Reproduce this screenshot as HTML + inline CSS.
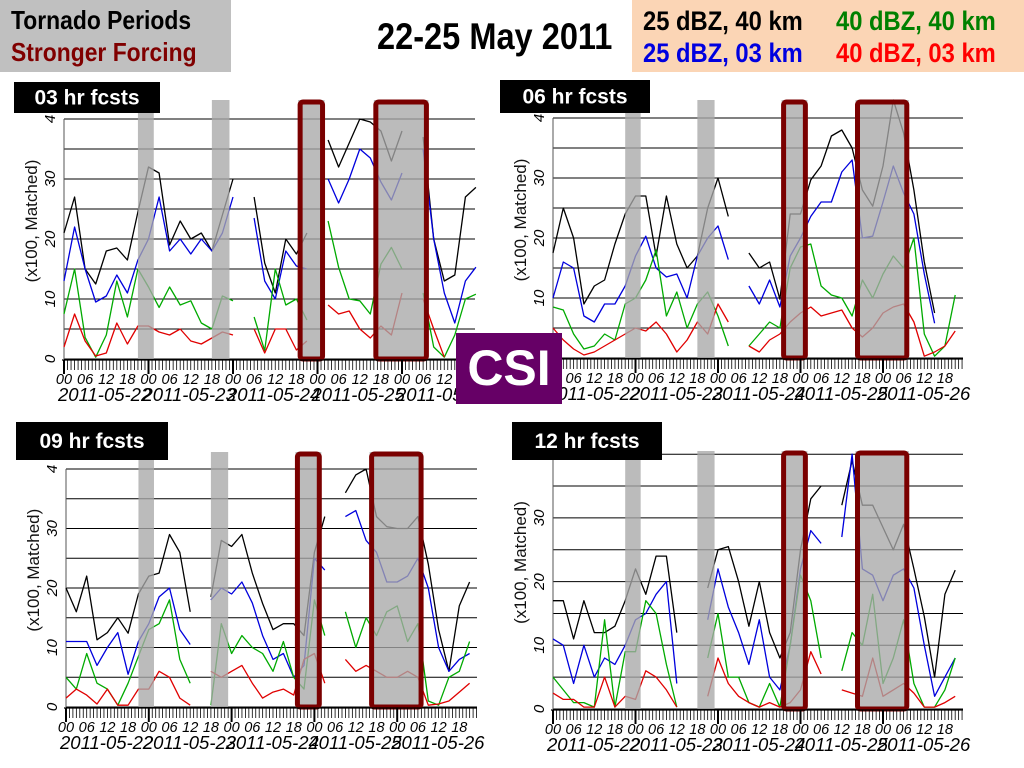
<!DOCTYPE html>
<html><head><meta charset="utf-8">
<style>
html,body{margin:0;padding:0;background:#fff;}
body{width:1024px;height:768px;position:relative;overflow:hidden;font-family:"Liberation Sans",Arial,sans-serif;}
.hdr{position:absolute;font-weight:bold;white-space:nowrap;line-height:1;transform-origin:left top;}
#chart{position:absolute;left:0;top:0;}
</style></head>
<body>
<div style="position:absolute;left:0;top:0;width:231px;height:72px;background:#c0c0c0;"></div>
<div class="hdr" style="left:11px;top:7px;font-size:26px;color:#000;transform:scaleX(0.88);">Tornado Periods</div>
<div class="hdr" style="left:11px;top:39px;font-size:26px;color:#800000;transform:scaleX(0.88);">Stronger Forcing</div>
<div class="hdr" style="left:377px;top:18px;font-size:37px;color:#000;transform:scaleX(0.88);">22-25 May 2011</div>
<div style="position:absolute;left:632px;top:0;width:392px;height:72px;background:#fbd5b5;"></div>
<div class="hdr" style="left:643px;top:8px;font-size:27px;color:#000;transform:scaleX(0.88);">25 dBZ, 40 km</div>
<div class="hdr" style="left:836px;top:8px;font-size:27px;color:#008000;transform:scaleX(0.88);">40 dBZ, 40 km</div>
<div class="hdr" style="left:643px;top:40px;font-size:27px;color:#0000e0;transform:scaleX(0.88);">25 dBZ, 03 km</div>
<div class="hdr" style="left:836px;top:40px;font-size:27px;color:#ff0000;transform:scaleX(0.88);">40 dBZ, 03 km</div>

<svg id="chart" width="1024" height="768" xmlns="http://www.w3.org/2000/svg"></svg>

<div style="position:absolute;left:456px;top:333px;width:106px;height:71px;background:#660066;color:#fff;font-weight:bold;font-size:50px;line-height:71px;text-align:center;">CSI</div>

<script>
const hours = [0,3,6,9,12,15,18,21,24,27,30,33,36,39,42,45,48,51,54,57,60,63,66,69,72,75,78,81,84,87,90,93,96,99,102,105,108,111,114,117];
const yTicks = [0,10,20,30,40];
const gridVals = [0,5,10,15,20,25,30,35,40];
const hourTickLabels = ["00","06","12","18"];
const dayLabels = ["2011-05-22","2011-05-23","2011-05-24","2011-05-25","2011-05-26"];
const tornadoSpans = [[21,25.5],[42,47]];
const forcingSpans = [[66.5,74],[88,103.5]];
const panelTitles = ["03 hr fcsts","06 hr fcsts","09 hr fcsts","12 hr fcsts"];

const p1Black=[21,27,15,12.5,18,18.5,16.5,24.5,32,31,19,23,20,21,18,24,30,null,27,16,11,20,17.5,21,null,36.5,32,36,40,39.5,38,33,38,null,37,20,13,14,27,28.6];
const p1Blue=[13,22,15,9.5,10.5,14,11,16.5,20,27,18,20,17.5,20,18,21,27,null,23.5,13,10,18,15.5,15,null,30,26,30,35,33.5,29.5,26.5,31,null,35,20,11,6,13,15.3];
const p1Green=[7.5,15,3.6,0.3,4,13,7,15,12,8.6,12,9,9.7,6,5,10.5,9.7,null,7,1.4,15,9,10,6.5,null,23,15.3,10,9.7,7.5,15.8,18.6,15,null,11,2,0.3,4,10,10.8];
const p1Red=[2,7.5,3,0.5,1,6,2.5,5.5,5.5,4.5,4,5,3,2.5,3.5,4.5,4,null,5,1,5,5,1.5,3,null,9,7.5,8,5,3.5,5.5,4,11,null,10,5,0.3,null,null,null];

const p2Black=[17.5,25,20,9,12,13,19,24,27,27,17,27,19,15,17,25,30,23.6,null,17.5,15,16,9.8,24,24,29.7,32,37,38,35,28,25.3,32,43,37.5,28,16,7.5,null,30];
const p2Blue=[10,16,15,7,6,9,9,12,17,20.3,15,13.5,14,10,17,20,22,16.4,null,12,9,13,8.5,17,20,23.6,26,26,31,33,20,20.3,26,32,27.5,24,14,5.8,null,14.7];
const p2Green=[8.5,8,4,1.5,2,4,3,9,10,13,18,7,11,5,9,11,7,2,null,2,4,6,5,15,18.5,19,12,10.5,10,7,13,10,14,17,15,20,4,0.3,2,10.5];
const p2Red=[5,3,1.5,0.5,1,2,3,4,5,4.5,6,4,1,3,6,4,9,6,null,2,1,3,4,6,7.5,8.5,7,7.5,8,5,3.5,5,7.5,8.5,9,6,0.3,1,2,4.5];

const p3Black=[20,16,22,11.3,12.5,15,12.4,19,22,22.5,29,26,16,null,18.5,28,27,29,22.5,17.4,13,14,14,12,26,32,null,36,39,40,32,30.3,30,30,32,24,13,6,17,21];
const p3Blue=[11,11,11,7,10,12.5,5.5,11,14,18.5,20,13,10.5,null,18,20,19,21,17.5,12,8,9,5,7,25,23,null,32,33,28,26,21,21,22,25,20,10,6,8,9];
const p3Green=[5,3,9,4,3,0.3,4,8.5,13,14,18,8,4,null,0.3,14,9,12,10,9,6,11,5,3,18,12,null,16,10,15,12,16,17,11,14,1,0.3,5,6,11];
const p3Red=[1.5,3,2,0.5,3,0.3,0.3,3,3,6,5,1.5,0.3,null,6,5,6,7,4,1.5,2.5,3,2,8,9,4,null,8,6,7,6,5,5,6,5,0.3,0.5,1,2.5,4];

const p4Black=[17,17,11,17,12,12,13,17,22,18,24,24,12,null,null,19,25,25.5,20,13,20,12,8,12,25,33,35,null,32,39,32,32,28.5,25,29,22,14.5,5,18,21.8];
const p4Blue=[11,10,4,10,5,8,7,10,14,15,18,20,4,null,null,14,22,16,12,7,14,5,3,10,22,28,26,null,27,40,22,21,17,21,22,19,10,2,5,8];
const p4Green=[5,3,1,1,0.3,14,0.3,9,9,17,15,7,0.3,null,null,8,15,5,5,1,0.3,4,0.3,10,21,17,8,null,6,12,10,18,4,8,14,4,0.3,0.3,3,8];
const p4Red=[2.5,1.5,1.5,0.3,0.3,5,0.3,2,1.5,6,5,3,0.3,null,null,2,8,4,2,1,0.3,1,0.3,1,3,9,5.5,null,3,2.5,2,8,2,3,4,2.5,0.3,0.3,1,2];

const panelSeries = [
  [p1Black,p1Blue,p1Green,p1Red],
  [p2Black,p2Blue,p2Green,p2Red],
  [p3Black,p3Blue,p3Green,p3Red],
  [p4Black,p4Blue,p4Green,p4Red]
];
const seriesNames=["25dbz-40km","25dbz-03km","40dbz-40km","40dbz-03km"];
const colors=["#000000","#0000dd","#00aa00","#e00000"];

const layout=[
  {x0:64,dayW:84.5,y0:359,unit:6.0,right:475,top:100,lab:[14,82,146,31]},
  {x0:553,dayW:82.5,y0:358,unit:6.0,right:963,top:100,lab:[500,80,150,33]},
  {x0:66,dayW:82.8,y0:707,unit:5.95,right:477,top:452,lab:[16,422,152,38]},
  {x0:553,dayW:82.5,y0:709,unit:6.37,right:963,top:451,lab:[512,422,150,38]}
];
const NS="http://www.w3.org/2000/svg";
const svg=document.getElementById('chart');
function mk(tag,attrs,parent){const e=document.createElementNS(NS,tag);for(const k in attrs)e.setAttribute(k,attrs[k]);(parent||svg).appendChild(e);return e;}

layout.forEach((L,pi)=>{
  const g=mk('g',{});
  
  
  const xs=h=>L.x0+h/24*L.dayW;
  const ys=v=>L.y0-v*L.unit;
  gridVals.forEach(v=>{
    const l=mk('line',{x1:L.x0,x2:L.right,y1:ys(v),y2:ys(v),stroke:'#000','stroke-width':1},g);
    
    
  });
  const ax=mk('line',{x1:L.x0,x2:L.x0,y1:L.y0,y2:ys(40),stroke:'#555','stroke-width':1},g);
  
  
  panelSeries[pi].forEach((arr,si)=>{
    let d='';let pen=false;
    arr.forEach((v,i)=>{
      if(v===null){pen=false;return;}
      d+=(pen?'L':'M')+xs(hours[i]).toFixed(1)+' '+ys(v).toFixed(1)+' ';pen=true;
    });
    const p=mk('path',{d:d,fill:'none',stroke:colors[si],'stroke-width':1.3,'stroke-linejoin':'round'},g);
    
    
  });
  tornadoSpans.concat(forcingSpans).forEach((s,k)=>{
    const r=mk('rect',{x:xs(s[0]),y:L.top,width:xs(s[1])-xs(s[0]),height:L.y0-L.top,fill:'#a8a8a8','fill-opacity':0.78},g);
    
    
  });
  forcingSpans.forEach(s=>{
    const r=mk('rect',{x:xs(s[0])+2,y:L.top+2,width:xs(s[1])-xs(s[0])-4,height:L.y0-L.top-2,fill:'none',stroke:'#7a0000','stroke-width':5,rx:3},g);
    
    
  });
  const xa=mk('line',{x1:L.x0-2,x2:L.right,y1:L.y0+1,y2:L.y0+1,stroke:'#000','stroke-width':1.2},g);
  
  
  const maxH=(L.right-L.x0)/L.dayW*24;
  for(let h=0;h<=maxH;h++){
    const major=h%24===0;
    mk('line',{x1:xs(h),x2:xs(h),y1:L.y0+1,y2:L.y0+(major?15:11),stroke:'#000','stroke-width':major?2:0.8},g);
  }
  for(let h=0;h<=maxH;h+=6){
    const t=mk('text',{x:xs(h),y:L.y0+25,'font-size':14.5,'font-style':'italic','text-anchor':'middle','font-family':'Liberation Sans, sans-serif'},g);
    t.textContent=hourTickLabels[(h/6)%4];
    
    
  }
  dayLabels.forEach((lab,i)=>{
    const t=mk('text',{x:xs(i*24)-6,y:L.y0+42,'font-size':18.5,'font-style':'italic','font-family':'Liberation Sans, sans-serif'},g);
    t.textContent=lab;
    
    
  });
  yTicks.forEach(v=>{
    if(pi===3&&v===40)return;
    const y=ys(v);
    const t=mk('text',{x:0,y:0,transform:`translate(${L.x0-9},${y}) rotate(-90)`,'font-size':15,'font-style':'italic','text-anchor':'middle','font-family':'Liberation Sans, sans-serif'},g);
    t.textContent=(v===40)?'4':String(v);
    
    
  });
  const yt=mk('text',{x:0,y:0,transform:`translate(${L.x0-27},${ys(23)}) rotate(-90)`,'font-size':17,'text-anchor':'middle','font-family':'Liberation Sans, sans-serif',fill:'#111'},g);
  yt.textContent='(x100, Matched)';
  
  
  const lb=mk('rect',{x:L.lab[0],y:L.lab[1],width:L.lab[2],height:L.lab[3],fill:'#000'},g);
  
  
  const lt=mk('text',{x:L.lab[0]+L.lab[2]/2,y:L.lab[1]+L.lab[3]/2+7,'font-size':21,'font-weight':'bold',fill:'#fff','text-anchor':'middle','font-family':'Liberation Sans, sans-serif'},g);
  lt.textContent=panelTitles[pi];
  
  
});
</script>
</body></html>
